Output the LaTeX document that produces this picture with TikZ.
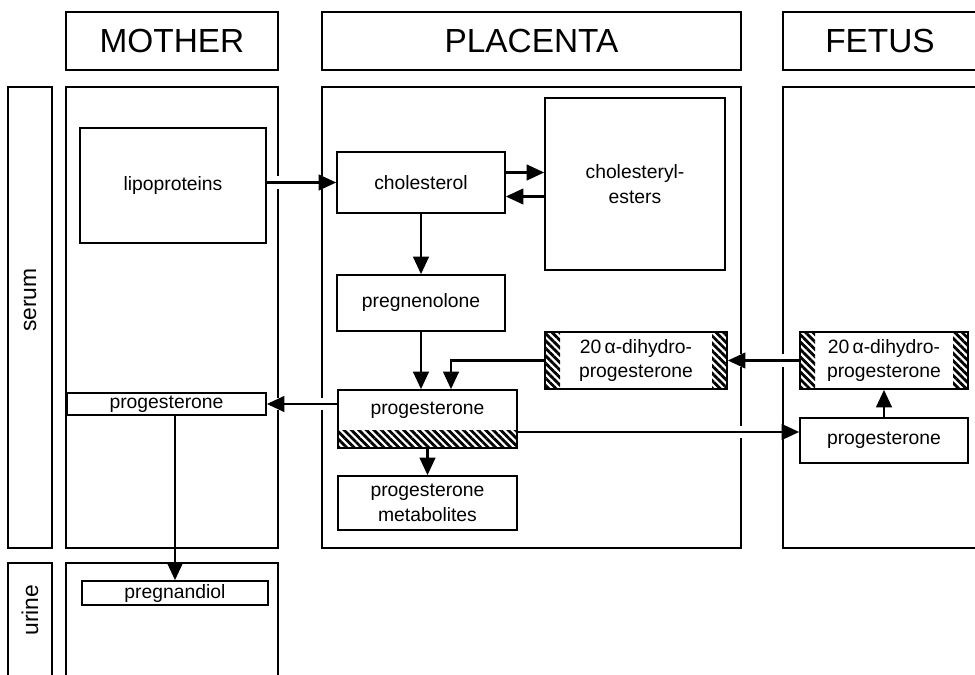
\documentclass[tikz,border=0pt]{standalone}
\usepackage{fontspec}
\setmainfont{Liberation Sans}
\usetikzlibrary{positioning,arrows.meta,calc,patterns.meta}

\begin{document}
\begin{tikzpicture}[
    x=0.2mm, y=0.2mm,
    box/.style={rectangle, draw, line width=1pt, fill=white, align=center, inner sep=0pt, font=\fontsize{11}{14}\selectfont},
    head/.style={rectangle, inner sep=0pt, font=\fontsize{19}{21}\selectfont},
    side/.style={rotate=90, inner sep=0pt, font=\fontsize{13}{15}\selectfont},
    col/.style={line width=1pt},
    hatch/.style={pattern={Lines[angle=135,distance=3pt,line width=1.6pt]}},
    hatchbottom/.style={path picture={\fill[hatch] (path picture bounding box.south west) rectangle ([yshift=0.34cm]path picture bounding box.south east);}},
    hatchsides/.style={path picture={
        \fill[hatch] (path picture bounding box.south west) rectangle ([xshift=0.3cm]path picture bounding box.north west);
        \fill[hatch] (path picture bounding box.south east) rectangle ([xshift=-0.3cm]path picture bounding box.north east);}},
    a/.style={-{Triangle[length=10pt,width=9pt]}, line width=1.2pt},
    ah/.style={a, preaction={draw=white, line width=7pt, shorten <=4pt, shorten >=4pt, -}}
]
    \useasboundingbox (0,0) rectangle (975,-675);
    % columns
    \draw[col] (8,-87) rectangle (52,-548);
    \draw[col] (8,-676) -- (8,-563) -- (52,-563) -- (52,-676);
    \draw[col] (66,-87) rectangle (278,-548);
    \draw[col] (66,-676) -- (66,-563) -- (278,-563) -- (278,-676);
    \draw[col] (322,-87) rectangle (741,-548);
    \draw[col] (976,-87) -- (783,-87) -- (783,-548) -- (976,-548);
    % headers
    \node[head, draw, line width=1pt, minimum width=4.24cm, minimum height=1.16cm] (mother) at (172,-41) {MOTHER};
    \node[head, draw, line width=1pt, minimum width=8.38cm, minimum height=1.16cm] (placenta) at (531.5,-41) {PLACENTA};
    \draw[col] (976,-12) -- (783,-12) -- (783,-70) -- (976,-70);
    \node[head] (fetus) at (880,-41) {FETUS};
    \node[side] (serum) at (30,-300) {serum};
    \node[side] (urine) at (30,-610) {urine};

    \node[box, minimum width=3.72cm, minimum height=2.3cm] (lipo) at (173,-185.5) {lipoproteins};
    \node[box, minimum width=3.36cm, minimum height=1.22cm] (chol) at (421,-182.5) {cholesterol};
    \node[box, minimum width=3.6cm, minimum height=3.44cm] (ester) at (635,-184) {cholesteryl-\\esters};
    \node[box, minimum width=3.36cm, minimum height=1.12cm] (preg) at (421,-303) {pregnenolone};
    \node[box, hatchsides, minimum width=3.64cm, minimum height=1.14cm] (dhp) at (636,-360.5) {20\,α-dihydro-\\progesterone};
    \node[box, hatchsides, minimum width=3.36cm, minimum height=1.14cm] (dhf) at (884,-360.5) {20\,α-dihydro-\\progesterone};
    \node[box, hatchbottom, minimum width=3.58cm, text height=14pt, text depth=19pt] (progp) at (427.5,-419) {progesterone};
    \node[box, minimum width=3.58cm, minimum height=1.08cm] (meta) at (427.5,-503) {progesterone\\metabolites};
    \node[box, minimum width=3.98cm, minimum height=0.44cm] (progm) at (166.5,-404) {progesterone};
    \node[box, minimum width=3.36cm, minimum height=0.9cm] (progf) at (884,-440.5) {progesterone};
    \node[box, minimum width=3.72cm, minimum height=0.48cm] (pregd) at (175,-593) {pregnandiol};

    \draw[ah] (lipo.east |- chol.west) -- (chol.west);
    \draw[a] ([yshift=0.2cm]chol.east) -- ([yshift=0.2cm]chol.east -| ester.west);
    \draw[a] ([yshift=-0.28cm]chol.east -| ester.west) -- ([yshift=-0.28cm]chol.east);
    \draw[a] (chol.south) -- (preg.north);
    \draw[a] (preg.south) -- (preg.south |- progp.north);
    \draw[a] (dhp.west) -| ([xshift=0.47cm]progp.north);
    \draw[ah] (dhf.west) -- (dhp.east);
    \draw[a] (progf.north) -- (progf.north |- dhf.south);
    \draw[ah] (progm.east -| progp.west) -- (progm.east);
    \draw[ah] ([yshift=-0.26cm]progp.east) -- ([yshift=-0.26cm]progp.east -| progf.west);
    \draw[a] (progp.south) -- (meta.north);
    \draw[a] (pregd.north |- progm.south) -- (pregd.north);
\end{tikzpicture}
\end{document}
